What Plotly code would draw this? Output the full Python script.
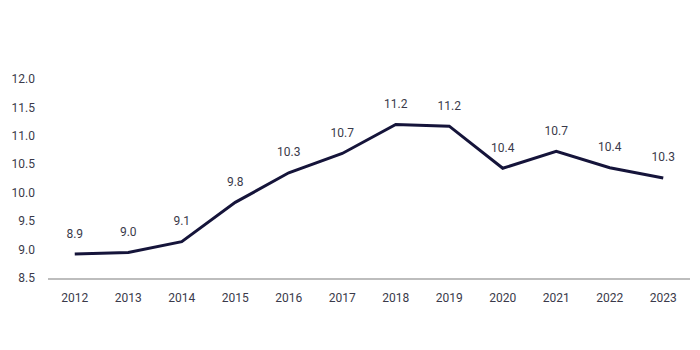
import plotly.graph_objects as go

years = ["2012", "2013", "2014", "2015", "2016", "2017", "2018", "2019", "2020", "2021", "2022", "2023"]
values = [8.92, 8.95, 9.14, 9.83, 10.35, 10.69, 11.20, 11.17, 10.43, 10.73, 10.44, 10.26]
labels = ["8.9", "9.0", "9.1", "9.8", "10.3", "10.7", "11.2", "11.2", "10.4", "10.7", "10.4", "10.3"]
y_ticks = [8.5, 9.0, 9.5, 10.0, 10.5, 11.0, 11.5, 12.0]

fig = go.Figure()
fig.add_trace(go.Scatter(
    x=years, y=values, mode="lines+markers+text",
    text=labels, textposition="top center",
    textfont=dict(family="Roboto", size=12, color="#3a3a4a"),
    line=dict(color="#15143a", width=3),
    marker=dict(size=20, color="rgba(0,0,0,0)"),
    cliponaxis=False,
))
fig.update_layout(
    width=700, height=350,
    margin=dict(l=48, r=10, t=79, b=72),
    paper_bgcolor="white", plot_bgcolor="white",
    showlegend=False,
    font=dict(family="Roboto", size=12, color="#3a3a4a"),
)
fig.update_xaxes(
    type="category", showgrid=False, showline=True, linecolor="#bdbdbd", linewidth=2,
    ticks="", ticklabelstandoff=8, range=[-0.5, 11.5],
)
fig.update_yaxes(
    range=[8.5, 12.0], tickvals=y_ticks, ticktext=[f"{v:.1f}" for v in y_ticks],
    showgrid=False, zeroline=False, showline=False, ticks="", ticklabelstandoff=12,
)
fig.write_html("out.html")
